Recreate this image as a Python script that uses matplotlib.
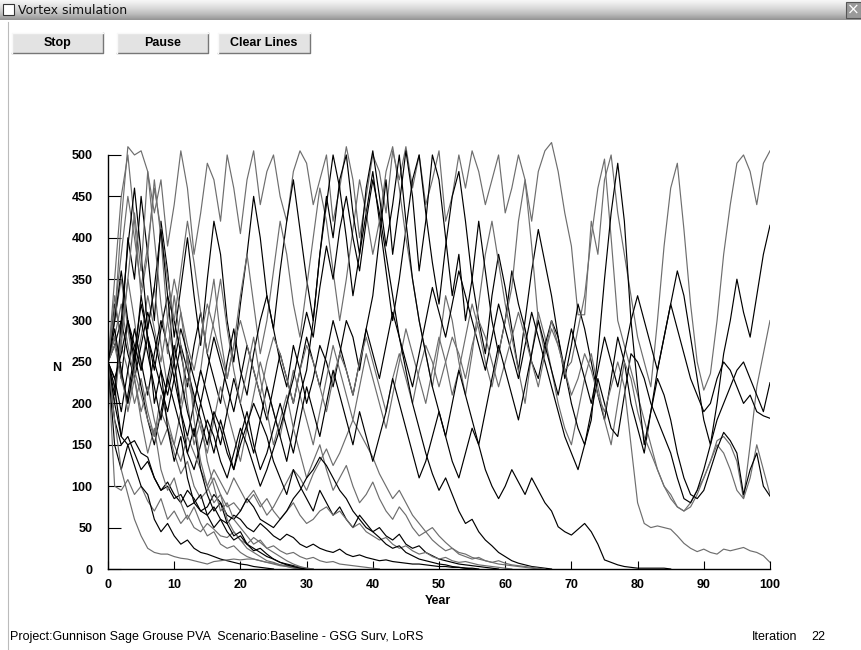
import numpy as np
import matplotlib.pyplot as plt
from matplotlib.patches import Rectangle
from matplotlib.lines import Line2D

# population trajectories (N per year, index = year)
# runs that survive to year 100
run01 = [250, 300, 420, 510, 500, 505, 480, 430, 470, 390,
         440, 505, 460, 380, 430, 490, 470, 420, 500, 460,
         405, 470, 505, 440, 480, 500, 450, 420, 480, 505,
         490, 440, 470, 500, 420, 460, 510, 470, 400, 450,
         500, 480, 430, 505, 470, 510, 460, 500, 440, 470,
         505, 420, 450, 500, 460, 505, 480, 440, 470, 500,
         430, 460, 500, 470, 420, 480, 505, 515, 480, 430,
         390, 307, 307, 420, 380, 470, 500, 430, 380, 330,
         280, 250, 220, 300, 390, 460, 490, 410, 320, 250,
         216, 236, 300, 380, 440, 490, 500, 480, 440, 490,
         505]
run02 = [250, 320, 280, 400, 350, 450, 380, 300, 420, 360,
         280, 340, 400, 330, 270, 350, 420, 380, 300, 250,
         320, 380, 450, 400, 330, 290, 360, 420, 470, 410,
         350, 300, 380, 440, 500, 460, 400, 330, 380, 430,
         480, 420, 360, 300, 350, 410, 470, 500, 430, 370,
         320, 390, 450, 480, 420, 350, 300, 260, 330, 380,
         340, 290, 240, 300, 360, 410, 370, 330, 280, 230,
         270, 320, 290, 250, 210, 180, 230, 280, 250, 200,
         170, 140, 190, 240, 280, 320, 360, 330, 280, 230,
         180, 150, 200, 260, 300, 350, 310, 280, 330, 380,
         415]
run03 = [250, 200, 280, 350, 300, 240, 290, 340, 270, 220,
         260, 310, 250, 200, 240, 300, 350, 280, 230, 270,
         330, 380, 320, 260, 300, 360, 420, 380, 320, 280,
         340, 400, 460, 420, 360, 300, 350, 410, 470, 430,
         380, 420, 480, 510, 460, 400, 350, 300, 260, 220,
         270, 330, 300, 250, 210, 260, 320, 380, 420, 370,
         320, 280, 240, 200, 260, 310, 280, 240, 200, 170,
         150, 190, 230, 260, 220, 180, 150, 200, 250, 230,
         190, 160, 140, 120, 100, 90, 75, 70, 80, 95,
         110, 130, 150, 140, 120, 95, 85, 150, 220, 260,
         300]
run04 = [250, 280, 230, 300, 260, 320, 280, 240, 290, 330,
         300, 260, 220, 270, 310, 260, 230, 200, 250, 290,
         240, 210, 260, 300, 330, 290, 250, 220, 270, 240,
         200, 230, 270, 250, 220, 260, 300, 280, 240, 290,
         330, 400, 470, 380, 440, 505, 450, 360, 420, 500,
         470, 400, 330, 380, 300, 350, 420, 360, 300, 260,
         300, 360, 320, 290, 250, 230, 270, 300, 280, 240,
         200, 170, 150, 190, 230, 200, 170, 160, 210, 260,
         250, 230, 200, 180, 160, 140, 110, 85, 80, 95,
         120, 150, 180, 200, 220, 240, 250, 230, 210, 190,
         225]
run05 = [250, 220, 270, 240, 200, 230, 190, 160, 210, 180,
         150, 190, 230, 200, 170, 140, 180, 220, 190, 160,
         130, 170, 210, 250, 220, 190, 160, 200, 240, 210,
         180, 150, 190, 230, 270, 240, 210, 180, 220, 260,
         230, 200, 170, 210, 250, 290, 260, 230, 200, 240,
         280, 250, 210, 240, 280, 320, 290, 250, 220, 260,
         300, 340, 420, 470, 390, 300, 260, 300, 270, 240,
         250, 290, 330, 400, 460, 495, 400, 300, 270, 240,
         210, 180, 150, 120, 100, 85, 75, 70, 75, 90,
         110, 130, 155, 160, 150, 130, 85, 110, 150, 120,
         90]
run06 = [250, 270, 300, 260, 230, 270, 310, 280, 240, 210,
         250, 290, 260, 230, 200, 240, 280, 250, 220, 190,
         230, 270, 240, 210, 180, 220, 260, 230, 200, 240,
         280, 250, 220, 260, 300, 270, 240, 210, 250, 290,
         260, 230, 270, 310, 280, 250, 220, 260, 300, 340,
         310, 280, 320, 360, 330, 300, 270, 240, 280, 320,
         290, 260, 230, 270, 310, 280, 250, 220, 190, 160,
         140, 120, 150, 180, 260, 350, 430, 490, 420, 300,
         220, 150, 190, 230, 210, 180, 140, 110, 90, 85,
         95, 120, 145, 165, 155, 140, 90, 120, 140, 100,
         88]
run07 = [250, 300, 350, 290, 240, 280, 330, 290, 250, 300,
         350, 310, 270, 240, 280, 320, 290, 260, 230, 270,
         300, 270, 240, 210, 250, 280, 260, 230, 200, 240,
         270, 250, 220, 190, 230, 260, 240, 210, 250, 280,
         250, 220, 190, 230, 260, 230, 200, 240, 270, 250,
         220, 250, 280, 260, 230, 270, 300, 280, 250, 220,
         250, 280, 310, 280, 250, 220, 260, 290, 270, 240,
         210, 230, 260, 240, 210, 190, 220, 250, 220, 150,
         80, 55, 50, 52, 50, 48, 40, 31, 25, 21,
         24, 20, 18, 24, 22, 24, 26, 22, 20, 16,
         8]
run08 = [250, 230, 190, 240, 290, 250, 210, 260, 300, 270,
         230, 190, 160, 200, 240, 210, 180, 150, 190, 230,
         200, 170, 140, 180, 220, 190, 160, 130, 170, 210,
         240, 300, 380, 450, 400, 470, 500, 430, 380, 460,
         505, 450, 390, 440, 500, 420, 350, 300, 260, 220,
         190, 160, 200, 240, 210, 180, 150, 190, 230, 270,
         240, 210, 180, 220, 260, 300, 270, 240, 210, 250,
         290, 260, 230, 200, 240, 280, 250, 220, 260, 300,
         330, 300, 270, 240, 280, 320, 290, 260, 230, 210,
         190, 200, 230, 250, 240, 220, 200, 210, 190, 185,
         182]

# runs that go extinct in mid simulation
run09 = [250, 310, 380, 450, 400, 340, 390, 460, 410, 350,
         300, 360, 420, 370, 310, 260, 300, 350, 290, 240,
         200, 240, 280, 230, 190, 150, 180, 210, 170, 140,
         110, 130, 150, 120, 95, 110, 125, 100, 80, 90,
         105, 85, 70, 60, 75, 65, 50, 40, 45, 35,
         28, 22, 25, 18, 15, 12, 14, 10, 8, 6,
         5, 4, 3, 2, 1, 0]
run10 = [250, 200, 160, 210, 260, 220, 180, 150, 190, 230,
         200, 170, 140, 120, 150, 180, 160, 130, 110, 140,
         170, 150, 125, 100, 120, 145, 170, 200, 230, 270,
         310, 280, 340, 390, 350, 410, 450, 400, 360, 420,
         470, 430, 380, 330, 280, 240, 200, 170, 140, 115,
         95, 110, 90, 70, 55, 60, 45, 35, 28, 20,
         15, 10, 7, 5, 3, 2, 1, 0]
run11 = [250, 280, 320, 270, 230, 190, 220, 180, 150, 170,
         140, 115, 130, 100, 85, 95, 110, 90, 75, 80,
         70, 85, 95, 80, 65, 75, 90, 105, 120, 110,
         95, 115, 130, 145, 125, 140, 160, 180, 165, 150,
         135, 115, 100, 85, 95, 80, 65, 55, 45, 50,
         40, 32, 25, 20, 18, 14, 12, 10, 8, 10,
         7, 5, 4, 3, 2, 1, 0]
run12 = [250, 230, 260, 300, 270, 240, 280, 250, 220, 190,
         230, 270, 240, 210, 180, 150, 190, 170, 140, 120,
         150, 175, 200, 180, 160, 130, 110, 90, 120, 100,
         85, 70, 95, 80, 65, 75, 60, 50, 65, 55,
         45, 50, 40, 35, 42, 30, 25, 28, 20, 16,
         12, 10, 8, 6, 5, 4, 3, 2, 1, 0]
run13 = [250, 270, 230, 200, 240, 210, 180, 160, 190, 170,
         150, 130, 160, 140, 120, 100, 120, 105, 90, 110,
         95, 80, 90, 75, 85, 70, 60, 70, 80, 65,
         55, 60, 70, 75, 65, 70, 60, 50, 55, 45,
         40, 35, 38, 30, 25, 28, 22, 18, 20, 15,
         12, 14, 10, 8, 9, 7, 5, 4, 3, 2,
         1, 0]
run14 = [250, 180, 150, 160, 140, 120, 130, 110, 95, 100,
         85, 90, 75, 80, 70, 65, 75, 60, 55, 65,
         60, 50, 45, 55, 48, 40, 35, 42, 38, 30,
         26, 30, 25, 22, 20, 24, 18, 15, 17, 14,
         12, 10, 11, 9, 8, 7, 6, 6, 5, 4,
         3, 3, 2, 2, 1, 1, 0]
run15 = [250, 100, 95, 108, 90, 100, 82, 70, 85, 60,
         70, 55, 65, 50, 45, 55, 48, 40, 38, 45,
         35, 30, 38, 32, 25, 28, 22, 18, 20, 15,
         12, 14, 10, 8, 9, 6, 5, 4, 3, 2,
         1, 0]
run16 = [250, 220, 160, 150, 155, 140, 135, 110, 95, 105,
         90, 80, 95, 85, 70, 75, 90, 80, 65, 60,
         70, 85, 75, 60, 55, 50, 60, 70, 85, 95,
         110, 120, 135, 125, 110, 95, 85, 70, 60, 50,
         45, 38, 30, 25, 28, 20, 16, 12, 10, 8,
         6, 5, 3, 2, 1, 0]
run24 = [250, 290, 240, 200, 250, 300, 260, 220, 180, 230,
         270, 230, 190, 160, 200, 170, 140, 180, 150, 120,
         160, 190, 150, 120, 140, 170, 200, 170, 140, 180,
         220, 190, 160, 200, 240, 210, 180, 150, 190, 160,
         130, 160, 190, 230, 200, 170, 140, 110, 130, 160,
         190, 160, 130, 110, 140, 170, 150, 120, 100, 85,
         100, 120, 105, 90, 110, 95, 80, 70, 51, 45,
         41, 48, 55, 45, 30, 11, 8, 5, 3, 2,
         1, 1, 1, 1, 1, 0]

# runs that crash early
run17 = [250, 350, 450, 500, 420, 330, 380, 470, 400, 300,
         250, 200, 260, 180, 130, 100, 80, 90, 60, 45,
         35, 25, 20, 15, 10, 8, 5, 3, 2, 1, 0]
run18 = [250, 210, 300, 390, 460, 380, 290, 340, 410, 330,
         250, 190, 140, 170, 120, 90, 70, 80, 55, 40,
         45, 30, 25, 20, 15, 12, 8, 6, 4, 2, 0]
run19 = [250, 280, 240, 190, 230, 180, 140, 170, 120, 95,
         110, 80, 60, 75, 55, 40, 45, 30, 25, 28,
         20, 15, 12, 10, 8, 6, 4, 3, 1, 0]
run20 = [250, 150, 120, 150, 125, 100, 90, 60, 45, 55,
         40, 30, 35, 25, 20, 18, 15, 12, 10, 8,
         6, 5, 3, 2, 1, 0]
run21 = [250, 180, 120, 90, 60, 40, 25, 20, 18, 18,
         15, 13, 12, 10, 8, 6, 9, 10, 11, 12,
         11, 12, 12, 10, 8, 7, 5, 4, 3, 2, 1, 0]
run22 = [250, 300, 360, 300, 250, 330, 280, 200, 240, 170,
         130, 160, 110, 80, 90, 65, 50, 60, 45, 35,
         40, 30, 22, 25, 18, 12, 8, 5, 3, 1, 0]
run23 = [250, 330, 270, 350, 430, 360, 480, 400, 320, 260,
         330, 270, 200, 150, 180, 130, 100, 70, 80, 60,
         50, 40, 30, 35, 25, 20, 15, 10, 6, 3, 1, 0]

runs = [run01, run02, run03, run04, run05, run06, run07, run08,
        run09, run10, run11, run12, run13, run14, run15, run16,
        run17, run18, run19, run20, run21, run22, run23, run24]

y_ticks = [0, 50, 100, 150, 200, 250, 300, 350, 400, 450, 500]
x_ticks = [0, 10, 20, 30, 40, 50, 60, 70, 80, 90, 100]

W, H = 861, 650
sans = ['Liberation Sans', 'DejaVu Sans']

def fx(px):
    return px / W

def fy(py):
    return 1 - py / H

fig = plt.figure(figsize=(W / 100, H / 100), dpi=100)
fig.patch.set_facecolor('white')

# window chrome: title bar
grad = np.linspace(0, 1, 20).reshape(-1, 1)
tb = fig.add_axes([0, fy(20), 1, 20 / H])
tb.imshow(grad, aspect='auto', cmap='Greys', vmin=-0.2, vmax=2.2,
          extent=[0, 1, 0, 1])
tb.axis('off')
fig.add_artist(Rectangle((fx(3), fy(15)), 11 / W, 11 / H, transform=fig.transFigure,
                         facecolor='white', edgecolor='#333333', lw=0.8))
fig.text(fx(18), fy(10), 'Vortex simulation', fontsize=9, va='center',
         family='DejaVu Sans', color='#111111')
fig.add_artist(Rectangle((fx(846), fy(18)), 15 / W, 16 / H, transform=fig.transFigure,
                         facecolor='#9a9a9a', edgecolor='#555555', lw=0.8))
fig.text(fx(853), fy(10), '×', fontsize=11, ha='center', va='center', color='white')
fig.add_artist(Line2D([fx(8), fx(8)], [fy(22), 0], transform=fig.transFigure,
                      color='#bbbbbb', lw=0.8))

# buttons
buttons = [('Stop', 12, 103), ('Pause', 117, 208), ('Clear Lines', 218, 310)]
for label, x0, x1 in buttons:
    fig.add_artist(Rectangle((fx(x0), fy(53)), (x1 - x0) / W, 20 / H,
                             transform=fig.transFigure, facecolor='#e3e3e3',
                             edgecolor='none'))
    fig.add_artist(Line2D([fx(x0), fx(x1), fx(x1)], [fy(53), fy(53), fy(33)],
                          transform=fig.transFigure, color='#777777', lw=1))
    fig.add_artist(Line2D([fx(x0), fx(x0), fx(x1)], [fy(53), fy(33), fy(33)],
                          transform=fig.transFigure, color='#f8f8f8', lw=1))
    fig.text(fx((x0 + x1) / 2), fy(43), label, fontsize=9, fontweight='bold',
             ha='center', va='center', family=sans)

# plot area
ax = fig.add_axes([fx(108), fy(569), (770 - 108) / W, (569 - 138.4) / H])
for i, r in enumerate(runs):
    col = 'black' if i % 2 else '#6e6e6e'
    ax.plot(np.arange(len(r)), r, color=col, lw=0.85)

ax.set_xlim(0, 100)
ax.set_ylim(0, 520)
ax.spines['top'].set_visible(False)
ax.spines['right'].set_visible(False)
ax.spines['left'].set_bounds(0, 500)
ax.spines['left'].set_linewidth(1)
ax.spines['bottom'].set_linewidth(1)
ax.set_yticks(y_ticks)
ax.set_xticks(x_ticks)
ax.tick_params(axis='y', direction='in', length=9.5, width=0.8, pad=11)
ax.tick_params(axis='x', direction='in', length=5.5, width=0.8, pad=7)
for lab in ax.get_xticklabels() + ax.get_yticklabels():
    lab.set_fontweight('bold')
    lab.set_fontsize(9)
    lab.set_family(sans)

fig.text(fx(57), fy(368), 'N', fontsize=9, fontweight='bold', ha='center',
         va='center', family=sans)
fig.text(fx(438), fy(601), 'Year', fontsize=9, fontweight='bold', ha='center',
         va='center', family=sans)

# status line
fig.text(fx(10), fy(637), 'Project:Gunnison Sage Grouse PVA  Scenario:Baseline - GSG Surv, LoRS',
         fontsize=9, va='center', family=sans)
fig.text(fx(752), fy(637), 'Iteration', fontsize=9, va='center', family=sans)
fig.text(fx(811), fy(637), '22', fontsize=9, va='center', family=sans)

fig.savefig('out.png', dpi=100)
